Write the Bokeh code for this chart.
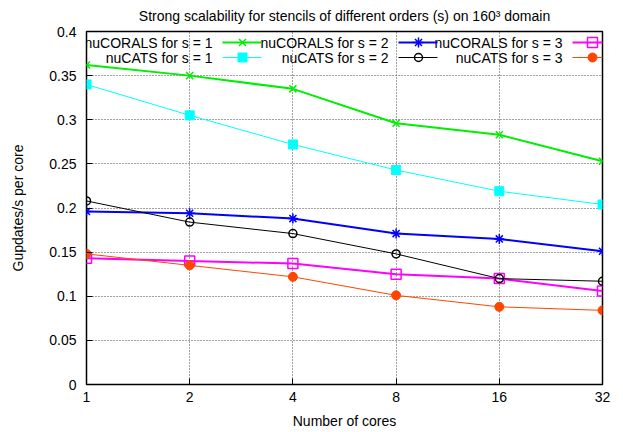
from bokeh.plotting import figure
from bokeh.models import Range1d, FixedTicker, CustomJSTickFormatter, Label, Arrow, LinearScale
from bokeh.embed import file_html
from bokeh.resources import INLINE

# Strong-scaling throughput per core, in Gupdates/s
cores = [1, 2, 4, 8, 16, 32]
corals_s1 = [0.362, 0.350, 0.335, 0.296, 0.283, 0.253]
corals_s2 = [0.196, 0.194, 0.188, 0.171, 0.165, 0.151]
corals_s3 = [0.143, 0.140, 0.137, 0.125, 0.120, 0.106]
cats_s1 = [0.340, 0.305, 0.272, 0.243, 0.219, 0.204]
cats_s2 = [0.208, 0.184, 0.171, 0.148, 0.120, 0.117]
cats_s3 = [0.148, 0.135, 0.122, 0.101, 0.088, 0.084]

y_ticks = [0, 0.05, 0.1, 0.15, 0.2, 0.25, 0.3, 0.35, 0.4]

FONT = "Liberation Sans"
TITLE = "Strong scalability for stencils of different orders (s) on 160³ domain"

# label, values, colour, marker, line width, filled marker, marker size
series = [
    ("nuCORALS for s = 1", corals_s1, "#00ee00", "x", 2, False, 10),
    ("nuCORALS for s = 2", corals_s2, "#0000ff", "asterisk", 2, False, 10),
    ("nuCORALS for s = 3", corals_s3, "#ff00ff", "square", 2, False, 10),
    ("nuCATS for s = 1", cats_s1, "#00ffff", "square", 1, True, 9),
    ("nuCATS for s = 2", cats_s2, "#000000", "circle", 1, False, 8),
    ("nuCATS for s = 3", cats_s3, "#ff4500", "circle", 1, True, 9),
]

p = figure(
    frame_width=516, frame_height=353,
    min_border_left=86, min_border_right=21,
    min_border_top=31, min_border_bottom=48,
    x_axis_type="log",
    x_range=Range1d(1, 32), y_range=Range1d(0, 0.4),
    output_backend="svg", toolbar_location=None,
    title=TITLE,
)
p.background_fill_color = "white"
p.border_fill_color = "white"
p.outline_line_color = "black"
p.outline_line_width = 1.5

p.title.align = "center"
p.title.vertical_align = "top"
p.title.text_font = FONT
p.title.text_font_size = "14px"
p.title.text_font_style = "normal"
p.title.text_color = "black"
p.title.standoff = 12

for ax in (p.xaxis[0], p.yaxis[0]):
    ax.major_label_text_font = FONT
    ax.major_label_text_font_size = "14px"
    ax.major_label_text_color = "black"
    ax.axis_label_text_font = FONT
    ax.axis_label_text_font_size = "14px"
    ax.axis_label_text_font_style = "normal"
    ax.axis_label_text_color = "black"
    ax.major_tick_in = 6
    ax.major_tick_out = 0
    ax.minor_tick_in = 0
    ax.minor_tick_out = 0
    ax.axis_line_color = None
    ax.major_tick_line_color = "black"

p.xaxis.ticker = FixedTicker(ticks=cores)
p.xaxis.formatter = CustomJSTickFormatter(code="return String(Math.round(tick));")
p.xaxis.axis_label = "Number of cores"
p.xaxis.major_label_standoff = 7
p.xaxis.axis_label_standoff = 8

p.yaxis.ticker = FixedTicker(ticks=y_ticks)
p.yaxis.formatter = CustomJSTickFormatter(code="return String(Number(tick.toFixed(2)));")
p.yaxis.axis_label = "Gupdates/s per core"
p.yaxis.major_label_standoff = 10
p.yaxis.axis_label_standoff = 20

for g in (p.xgrid[0], p.ygrid[0]):
    g.grid_line_color = "#444444"
    g.grid_line_dash = "1 2"
    g.grid_line_width = 1

for label, vals, color, marker, lw, filled, size in series:
    p.line(cores, vals, line_color=color, line_width=lw)
    p.scatter(cores, vals, marker=marker, size=size, line_color=color,
              line_width=1.5 if not filled else 1,
              fill_color=color if filled else None)

# Pixel-space coordinates for the key (canvas x, canvas y from top)
p.extra_x_ranges = {"px": Range1d(86, 602)}
p.extra_y_ranges = {"px": Range1d(384, 31)}
p.extra_x_scales = {"px": LinearScale()}
p.extra_y_scales = {"px": LinearScale()}

# Key: label on the left, line sample with marker on the right
col_right = [212, 388, 562]
row_y = [42, 57]
for i, (label, vals, color, marker, lw, filled, size) in enumerate(series):
    r, c = divmod(i, 3)
    xr, yy = col_right[c], row_y[r]
    p.add_layout(Label(x=xr, y=yy, x_range_name="px", y_range_name="px",
                       text=label, text_align="right", text_baseline="middle",
                       text_font=FONT, text_font_size="14px", text_color="black"))
    p.add_layout(Arrow(end=None, x_start=xr + 10, y_start=yy, x_end=xr + 49, y_end=yy,
                       x_range_name="px", y_range_name="px", level="overlay",
                       line_color=color, line_width=lw))
    p.scatter([xr + 30], [yy], x_range_name="px", y_range_name="px",
              marker=marker, size=size, line_color=color,
              line_width=1.5 if not filled else 1,
              fill_color=color if filled else None)

open("out.html", "w").write(file_html(p, INLINE))
